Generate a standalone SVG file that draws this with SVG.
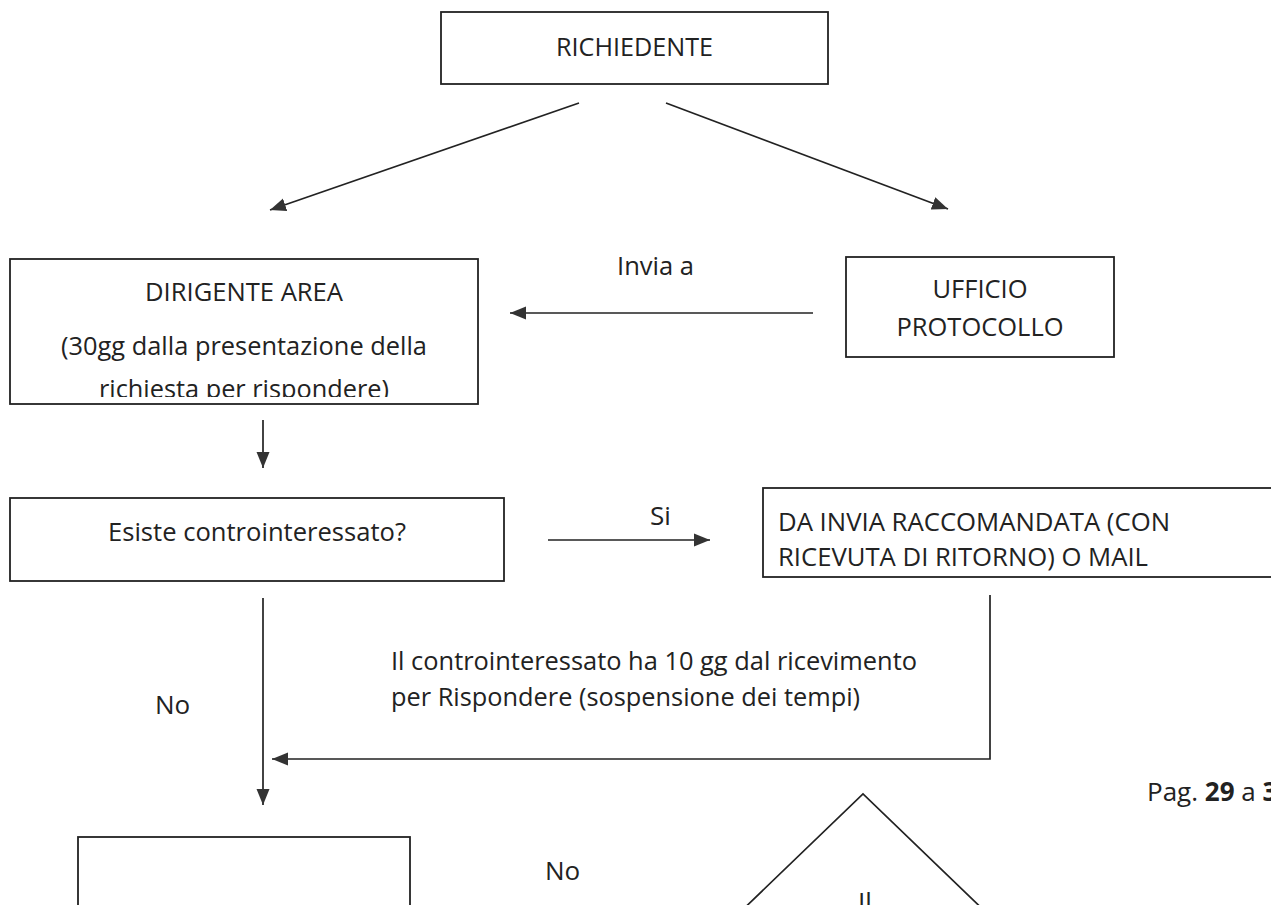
<svg xmlns="http://www.w3.org/2000/svg" width="1271" height="905" viewBox="0 0 1271 905">
  <style>
    .box { fill: #ffffff; stroke: #222222; stroke-width: 1.8; }
    .t { font-family: "Open Sans", "Liberation Sans", sans-serif; font-size: 26px; fill: #222222; }
    .c { text-anchor: middle; }
    .ln { fill: none; stroke: #222222; stroke-width: 1.7; }
  </style>
  <defs>
    <marker id="ah" markerUnits="userSpaceOnUse" markerWidth="18" markerHeight="14" refX="16" refY="7" orient="auto">
      <path d="M0,0.5 L16,7 L0,13.5 Z" fill="#333333"/>
    </marker>
    <clipPath id="clipDir">
      <rect x="0" y="250" width="500" height="147"/>
    </clipPath>
  </defs>
  <rect width="1271" height="905" fill="#ffffff"/>

  <g id="richiedente">
    <rect class="box" x="441" y="12" width="387" height="72"/>
    <text class="t c" x="634.5" y="56" textLength="157" lengthAdjust="spacingAndGlyphs">RICHIEDENTE</text>
  </g>

  <g id="dirigente">
    <rect class="box" x="10" y="259" width="468" height="145"/>
    <text class="t c" x="244" y="301" textLength="198" lengthAdjust="spacingAndGlyphs">DIRIGENTE AREA</text>
    <text class="t c" x="244" y="355" textLength="366" lengthAdjust="spacingAndGlyphs">(30gg dalla presentazione della</text>
    <g clip-path="url(#clipDir)">
      <text class="t c" x="244" y="398" textLength="290" lengthAdjust="spacingAndGlyphs">richiesta per rispondere)</text>
    </g>
  </g>

  <g id="ufficio">
    <rect class="box" x="846" y="257" width="268" height="100"/>
    <text class="t c" x="980" y="298" textLength="95" lengthAdjust="spacingAndGlyphs">UFFICIO</text>
    <text class="t c" x="980" y="336" textLength="167" lengthAdjust="spacingAndGlyphs">PROTOCOLLO</text>
  </g>

  <g id="esiste">
    <rect class="box" x="10" y="498" width="494" height="83"/>
    <text class="t c" x="257" y="541" textLength="298" lengthAdjust="spacingAndGlyphs">Esiste controinteressato?</text>
  </g>

  <g id="dainvia">
    <rect class="box" x="763" y="488" width="530" height="89"/>
    <text class="t" x="778" y="531" textLength="392" lengthAdjust="spacingAndGlyphs">DA INVIA RACCOMANDATA (CON</text>
    <text class="t" x="778" y="566" textLength="370" lengthAdjust="spacingAndGlyphs">RICEVUTA DI RITORNO) O MAIL</text>
  </g>

  <g id="esito">
    <rect class="box" x="78" y="837" width="332" height="90"/>
  </g>

  <g id="decisione">
    <polyline class="ln" points="731,921 863,794 995,921"/>
    <text class="t" x="858" y="911">Il</text>
  </g>

  <g id="connectors">
    <line class="ln" x1="579" y1="103" x2="270" y2="210" marker-end="url(#ah)"/>
    <line class="ln" x1="666" y1="103" x2="948" y2="209" marker-end="url(#ah)"/>
    <line class="ln" x1="813" y1="313" x2="510" y2="313" marker-end="url(#ah)"/>
    <line class="ln" x1="263" y1="420" x2="263" y2="468" marker-end="url(#ah)"/>
    <line class="ln" x1="548" y1="540" x2="710" y2="540" marker-end="url(#ah)"/>
    <polyline class="ln" points="990,595 990,759 272,759" marker-end="url(#ah)"/>
    <line class="ln" x1="263" y1="598" x2="263" y2="805" marker-end="url(#ah)"/>
  </g>

  <g id="labels">
    <text class="t" x="617" y="275" textLength="77" lengthAdjust="spacingAndGlyphs">Invia a</text>
    <text class="t" x="650" y="525">Si</text>
    <text class="t" x="391" y="670" textLength="526" lengthAdjust="spacingAndGlyphs">Il controinteressato ha 10 gg dal ricevimento</text>
    <text class="t" x="391" y="706" textLength="469" lengthAdjust="spacingAndGlyphs">per Rispondere (sospensione dei tempi)</text>
    <text class="t" x="155" y="714">No</text>
    <text class="t" x="545" y="880">No</text>
    <text class="t" x="1147" y="801">Pag. <tspan font-weight="bold">29</tspan> a <tspan font-weight="bold">3</tspan></text>
  </g>
</svg>
